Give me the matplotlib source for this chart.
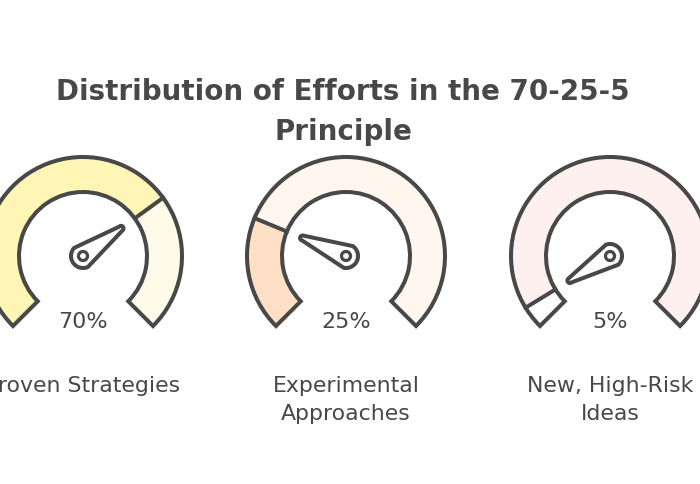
import numpy as np
import matplotlib.pyplot as plt
from matplotlib.patches import Wedge, Circle, Polygon

# Chart data
categories = ["Proven Strategies", "Experimental\nApproaches", "New, High-Risk\nIdeas"]
shares = [70, 25, 5]
pct_labels = ["70%", "25%", "5%"]
title = "Distribution of Efforts in the 70-25-5\nPrinciple"

# Styles
fill_colors = ["#fff5b5", "#ffe0c6", "#ffffff"]
rest_colors = ["#fffbe8", "#fff6ee", "#fff0f0"]
ink = "#484848"
lw = 2.9

W, H = 700, 485
fig = plt.figure(figsize=(7, 4.85), dpi=100)
ax = fig.add_axes([0, 0, 1, 1])
ax.set_xlim(0, W)
ax.set_ylim(0, H)
ax.set_aspect("equal")
ax.axis("off")

centers_x = [83, 346, 610]
cy = H - 257
r_out, r_in = 99, 64
start, span = 225, 270


def needle(cx, cy, ang, r0=12, r1=2.5, d=47):
    a = np.deg2rad(ang)
    tx, ty = cx + d * np.cos(a), cy + d * np.sin(a)
    alpha = np.arcsin((r0 - r1) / d)
    back = np.linspace(a + np.pi / 2 + alpha, a + 3 * np.pi / 2 - alpha, 40)
    front = np.linspace(a - np.pi / 2 + alpha, a + np.pi / 2 + alpha, 15)
    pts = [(cx + r0 * np.cos(t), cy + r0 * np.sin(t)) for t in back]
    pts += [(tx + r1 * np.cos(t), ty + r1 * np.sin(t)) for t in front]
    return Polygon(pts, closed=True, fc="white", ec=ink, lw=lw, joinstyle="round", zorder=4)


for i, cx in enumerate(centers_x):
    val_ang = start - span * shares[i] / 100
    # colored fills
    ax.add_patch(Wedge((cx, cy), r_out, val_ang, start, width=r_out - r_in,
                       fc=fill_colors[i], ec="none", zorder=1))
    ax.add_patch(Wedge((cx, cy), r_out, start - span, val_ang, width=r_out - r_in,
                       fc=rest_colors[i], ec="none", zorder=1))
    # ring outline
    ax.add_patch(Wedge((cx, cy), r_out, start - span, start, width=r_out - r_in,
                       fc="none", ec=ink, lw=lw, joinstyle="miter", zorder=3))
    # divider
    a = np.deg2rad(val_ang)
    ax.plot([cx + r_in * np.cos(a), cx + r_out * np.cos(a)],
            [cy + r_in * np.sin(a), cy + r_out * np.sin(a)], color=ink, lw=lw, zorder=3)
    # needle
    ax.add_patch(needle(cx, cy, val_ang))
    ax.add_patch(Circle((cx, cy), 4.5, fc="white", ec=ink, lw=lw * 0.8, zorder=5))
    # texts
    ax.text(cx, H - 322, pct_labels[i], ha="center", va="center",
            fontsize=16, color=ink, family="DejaVu Sans")
    ax.text(cx, H - 376, categories[i], ha="center", va="top",
            fontsize=15.8, color=ink, family="DejaVu Sans", linespacing=1.48)

ax.text(343, H - 112, title, ha="center", va="center", fontsize=20,
        fontweight="bold", color=ink, family="DejaVu Sans", linespacing=1.5)

fig.savefig("out.png", dpi=100)
